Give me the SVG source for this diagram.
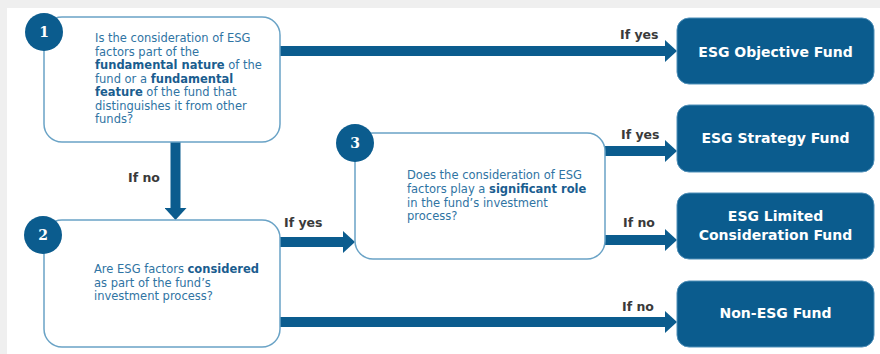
<svg xmlns="http://www.w3.org/2000/svg" width="880" height="354" viewBox="0 0 880 354">
  <style>
    .q { fill: #ffffff; stroke: #6aa3c6; stroke-width: 1.5; }
    .res { fill: #0b5c8e; stroke: #4f8fb8; stroke-width: 1; }
    .num { fill: #0b5c8e; }
    .numt { fill: #ffffff; font-family: "DejaVu Serif", serif; font-weight: bold; font-size: 14px; text-anchor: middle; }
    .qt { fill: #2f74a3; font-family: "DejaVu Sans", Verdana, sans-serif; font-size: 11.5px; }
    .b { font-weight: bold; fill: #1a5d8f; }
    .rt { fill: #ffffff; font-family: "DejaVu Sans", Verdana, sans-serif; font-weight: bold; font-size: 14px; text-anchor: middle; }
    .lbl { fill: #3a3a3a; font-family: "DejaVu Sans", Verdana, sans-serif; font-weight: bold; font-size: 12.5px; }
    .arr { stroke: #0b5c8e; stroke-width: 10; fill: none; marker-end: url(#head); }
  </style>
  <defs>
    <marker id="head" markerUnits="userSpaceOnUse" markerWidth="12" markerHeight="22" refX="0" refY="11" orient="auto">
      <path d="M0,0 L12,11 L0,22 z" fill="#0b5c8e"/>
    </marker>
  </defs>
  <rect x="0" y="0" width="880" height="354" fill="#efefef"/>
  <rect x="7" y="8" width="873" height="346" fill="#ffffff"/>

  <g id="connectors">
    <line class="arr" x1="280" y1="51" x2="665" y2="51"/>
    <text class="lbl" x="620" y="39">If yes</text>
    <line class="arr" x1="175.5" y1="142" x2="175.5" y2="208"/>
    <text class="lbl" x="128" y="182">If no</text>
    <line class="arr" x1="280" y1="242" x2="343" y2="242"/>
    <text class="lbl" x="284" y="227">If yes</text>
    <line class="arr" x1="280" y1="322" x2="665" y2="322"/>
    <text class="lbl" x="622" y="311">If no</text>
    <line class="arr" x1="605" y1="151" x2="665" y2="151"/>
    <text class="lbl" x="621" y="139">If yes</text>
    <line class="arr" x1="605" y1="240" x2="665" y2="240"/>
    <text class="lbl" x="623" y="227">If no</text>
  </g>

  <g id="q1">
    <rect class="q" x="44" y="17" width="236" height="125" rx="18"/>
    <circle class="num" cx="44" cy="32" r="19"/>
    <text class="numt" x="44" y="37">1</text>
    <text class="qt" x="95" y="42">Is the consideration of ESG</text>
    <text class="qt" x="95" y="55.5">factors part of the</text>
    <text class="qt" x="95" y="69"><tspan class="b">fundamental nature</tspan> of the</text>
    <text class="qt" x="95" y="82.5">fund or a <tspan class="b">fundamental</tspan></text>
    <text class="qt" x="95" y="96"><tspan class="b">feature</tspan> of the fund that</text>
    <text class="qt" x="95" y="109.5">distinguishes it from other</text>
    <text class="qt" x="95" y="123">funds?</text>
  </g>

  <g id="q2">
    <rect class="q" x="44" y="220" width="236" height="127" rx="18"/>
    <circle class="num" cx="43" cy="235" r="19"/>
    <text class="numt" x="43" y="240">2</text>
    <text class="qt" x="94" y="273">Are ESG factors <tspan class="b">considered</tspan></text>
    <text class="qt" x="94" y="287">as part of the fund’s</text>
    <text class="qt" x="94" y="300">investment process?</text>
  </g>

  <g id="q3">
    <rect class="q" x="355" y="133" width="250" height="126" rx="18"/>
    <circle class="num" cx="355" cy="143" r="19"/>
    <text class="numt" x="355" y="148">3</text>
    <text class="qt" x="407" y="179">Does the consideration of ESG</text>
    <text class="qt" x="407" y="193">factors play a <tspan class="b">significant role</tspan></text>
    <text class="qt" x="407" y="206.5">in the fund’s investment</text>
    <text class="qt" x="407" y="220">process?</text>
  </g>

  <g id="objective">
    <rect class="res" x="677" y="18" width="197" height="66" rx="12"/>
    <text class="rt" x="775.5" y="57">ESG Objective Fund</text>
  </g>
  <g id="strategy">
    <rect class="res" x="677" y="105" width="197" height="67" rx="12"/>
    <text class="rt" x="775.5" y="143">ESG Strategy Fund</text>
  </g>
  <g id="limited">
    <rect class="res" x="677" y="193" width="197" height="66" rx="12"/>
    <text class="rt" x="775.5" y="221">ESG Limited</text>
    <text class="rt" x="775.5" y="240">Consideration Fund</text>
  </g>
  <g id="nonesg">
    <rect class="res" x="677" y="281" width="197" height="66" rx="12"/>
    <text class="rt" x="775.5" y="318">Non-ESG Fund</text>
  </g>
</svg>
